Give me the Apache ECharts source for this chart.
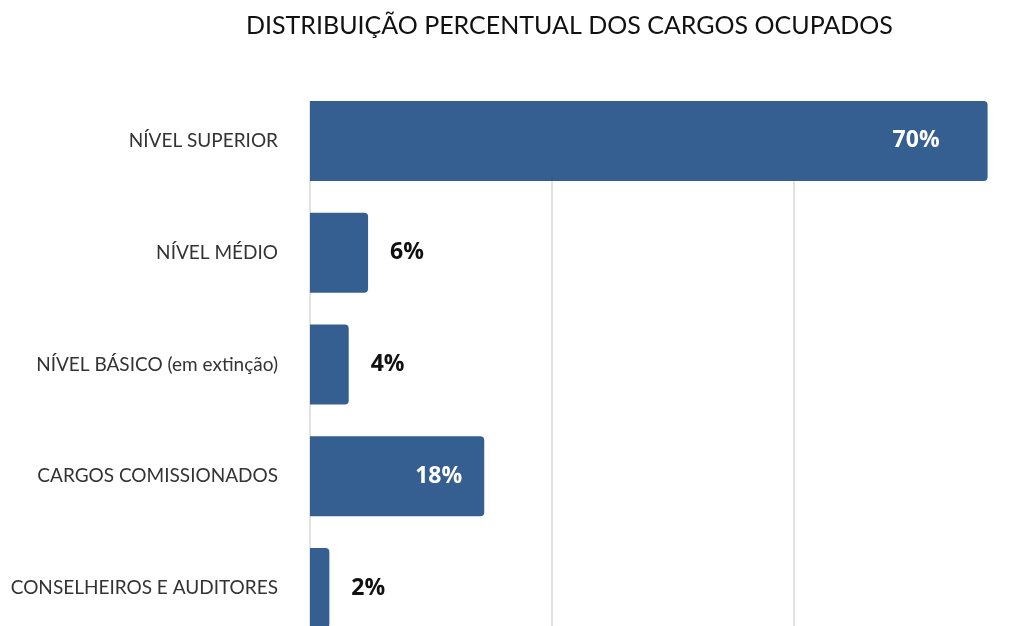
<!DOCTYPE html>
<html lang="pt">
<head>
    <meta charset="UTF-8">
    <title>Distribuição percentual dos cargos ocupados</title>
    <script src="https://cdn.jsdelivr.net/npm/echarts@6/dist/echarts.min.js"></script>
    <style>
        html, body { margin: 0; padding: 0; background: #fff; overflow: hidden; }
        /* the original picture is cut off on the right and at the bottom */
        #main { width: 1036px; height: 644px; }
    </style>
</head>
<body>
<div id="main"></div>
<script>
    var categorias = ["NÍVEL SUPERIOR", "NÍVEL MÉDIO", "NÍVEL BÁSICO (em extinção)", "CARGOS COMISSIONADOS", "CONSELHEIROS E AUDITORES"];
    var percentuais = [70, 6, 4, 18, 2];
    var rotuloDentro = [true, false, false, true, false];

    var azul = "#345f90";

    var dados = percentuais.map(function (v, i) {
        var item = { value: v };
        if (rotuloDentro[i]) {
            item.label = { position: "insideRight", color: "#ffffff", distance: v > 50 ? 48 : 22 };
        }
        return item;
    });

    var eixoX = {
        type: "value",
        min: 0,
        max: 75,
        interval: 25,
        axisLabel: { show: false },
        axisLine: { show: false },
        axisTick: { show: false }
    };

    var chart = echarts.init(document.getElementById("main"));
    chart.setOption({
        animation: false,
        title: {
            text: "DISTRIBUIÇÃO PERCENTUAL DOS CARGOS OCUPADOS",
            left: 241,
            top: 8,
            textStyle: { fontFamily: "Lato", fontSize: 25, fontWeight: "normal", color: "#111" }
        },
        // grid 0: bars, grid 1: only the vertical lines (they start at the top of the first bar)
        grid: [
            { left: 310, right: 0, top: 85, bottom: 0 },
            { left: 310, right: 0, top: 101, bottom: 0 }
        ],
        xAxis: [
            Object.assign({ gridIndex: 0, splitLine: { show: false } }, eixoX),
            Object.assign({ gridIndex: 1, splitLine: { lineStyle: { color: "#d9d9d9", width: 1.5 } } }, eixoX)
        ],
        yAxis: [
            {
                gridIndex: 0,
                type: "category",
                inverse: true,
                data: categorias,
                axisTick: { show: false },
                axisLine: { show: false },
                axisLabel: { margin: 32, fontFamily: "Lato", fontSize: 19, color: "#333" }
            },
            { gridIndex: 1, type: "value", show: false, splitLine: { show: false } }
        ],
        series: [{
            type: "bar",
            xAxisIndex: 0,
            yAxisIndex: 0,
            data: dados,
            barWidth: 80,
            z: 3,
            itemStyle: { color: azul, borderRadius: [0, 4, 4, 0] },
            label: {
                show: true,
                position: "right",
                distance: 22,
                formatter: "{c}%",
                fontFamily: "Open Sans",
                fontWeight: "bold",
                fontSize: 23,
                color: "#111"
            }
        }]
    });
</script>
</body>
</html>
